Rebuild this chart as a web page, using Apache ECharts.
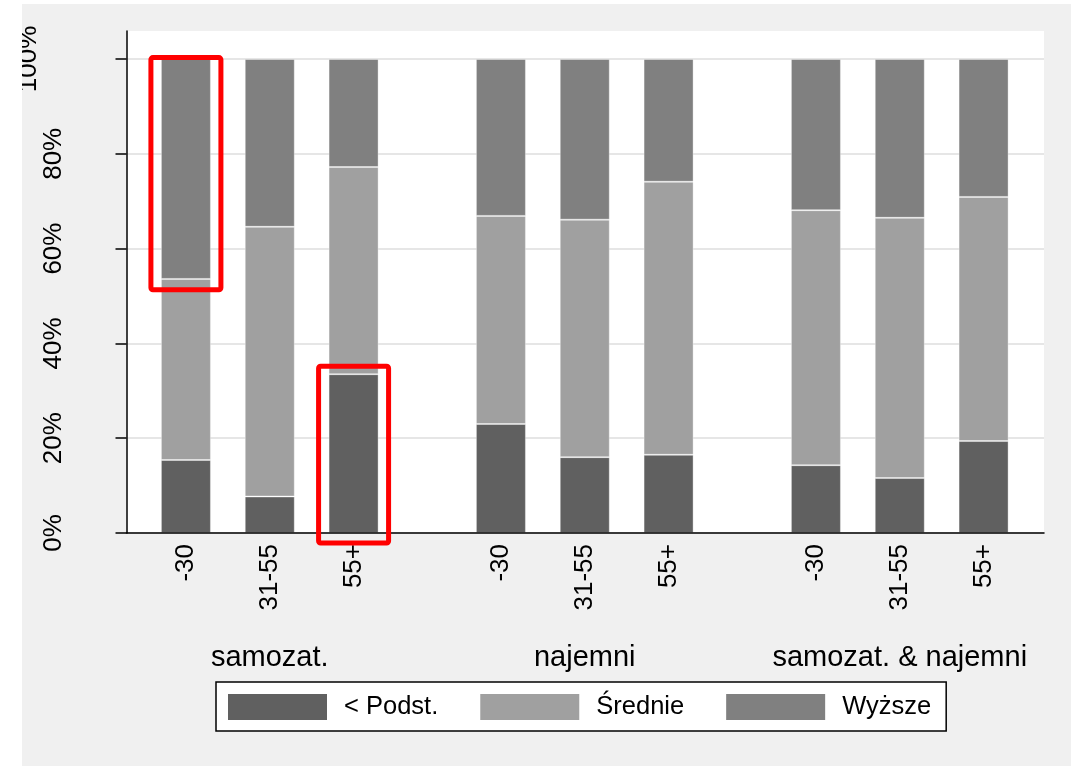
<!DOCTYPE html>
<html>
<head>
<meta charset="utf-8">
<script src="https://cdn.jsdelivr.net/npm/echarts@6/dist/echarts.min.js"></script>
<style>html,body{margin:0;padding:0;background:#fff}#c{width:1071px;height:766px}</style>
</head>
<body>
<div id="c"></div>
<script>
// ---- data ----
const ageCats = ['-30', '31-55', '55+'];
const groupNames = ['samozat.', 'najemni', 'samozat. & najemni'];
const seriesNames = ['< Podst.', 'Średnie', 'Wyższe'];
// shares (%) per group, per age category
const podst   = [[15.4, 7.7, 33.5], [23.0, 16.0, 16.5], [14.3, 11.6, 19.4]];
const srednie = [[38.2, 56.9, 43.7], [43.9, 50.1, 57.6], [53.8, 54.9, 51.5]];
const wyzsze  = [[46.4, 35.4, 22.8], [33.1, 33.9, 25.9], [31.9, 33.5, 29.1]];
const yTickLabels = ['0%', '20%', '40%', '60%', '80%', '100%'];
// highlighted (red boxed) segments: group index, category, lower %, upper %
const hlGroup = [0, 0];
const hlCat = ['-30', '55+'];
const hlLow = [51.3, -2.1];
const hlHigh = [100.3, 35.2];

// ---- layout / style ----
const FONT = '"Liberation Sans", Arial, sans-serif';
const colors = ['#606060', '#a0a0a0', '#808080'];
const groupLeft = [144, 459, 774];
const groupWidth = 251.5;
const plotTop = 59, plotBottom = 233, frameTop = 31, plotLeft = 126.5, plotRight = 27;
const values = [podst, srednie, wyzsze];

const grids = [
  {left: plotLeft, right: plotRight, top: frameTop, bottom: plotBottom, show: true, backgroundColor: '#fff', borderWidth: 0},
  {left: plotLeft, right: plotRight, top: plotTop, bottom: plotBottom}
];
const xAxes = [
  {gridIndex: 0, type: 'value', min: 0, max: 1, z: 5, axisLine: {show: true, lineStyle: {color: '#000', width: 1.5}}, axisTick: {show: false}, axisLabel: {show: false}, splitLine: {show: false}},
  {gridIndex: 1, type: 'value', show: false, min: 0, max: 1}
];
const yAxes = [
  {gridIndex: 0, type: 'value', min: 0, max: 1, z: 5, axisLine: {show: true, lineStyle: {color: '#000', width: 1.5}}, axisTick: {show: false}, axisLabel: {show: false}, splitLine: {show: false}},
  {gridIndex: 1, type: 'value', min: 0, max: 100, interval: 20,
   axisLine: {show: false},
   axisTick: {show: true, inside: false, length: 11, lineStyle: {color: '#000', width: 1.5}},
   splitLine: {show: true, lineStyle: {color: '#e6e6e6', width: 2}},
   axisLabel: {rotate: 90, margin: 60, fontSize: 26, color: '#000', fontFamily: FONT,
     formatter: function (v) { const l = yTickLabels[Math.round(v / 20)]; return v === 100 ? '{top|' + l + '}' : l; },
     rich: {top: {fontSize: 26, color: '#000', fontFamily: FONT, padding: [0, 0, 25, 0]}}}}
];
const series = [];
groupNames.forEach(function (gName, g) {
  grids.push({left: groupLeft[g], width: groupWidth, top: plotTop, bottom: plotBottom});
  xAxes.push({gridIndex: g + 2, type: 'category', data: ageCats,
    axisLine: {show: false}, axisTick: {show: false}, splitLine: {show: false},
    axisLabel: {rotate: 90, margin: 11, fontSize: 26, color: '#000', fontFamily: FONT, interval: 0},
    name: gName, nameLocation: 'middle', nameGap: 110,
    nameTextStyle: {fontSize: 29, color: '#000', fontFamily: FONT}});
  yAxes.push({gridIndex: g + 2, type: 'value', min: 0, max: 100, show: false});
  seriesNames.forEach(function (sName, s) {
    series.push({type: 'bar', name: sName, xAxisIndex: g + 2, yAxisIndex: g + 2, stack: 'g' + g,
      barWidth: 50, data: values[s][g],
      itemStyle: {color: colors[s], borderColor: 'rgba(255,255,255,0.35)', borderWidth: 1},
      emphasis: {disabled: true}});
  });
});

const chart = echarts.init(document.getElementById('c'), null, {renderer: 'canvas'});
chart.setOption({
  backgroundColor: '#fff',
  animation: false,
  textStyle: {fontFamily: FONT},
  grid: grids, xAxis: xAxes, yAxis: yAxes, series: series,
  legend: {data: seriesNames, left: 216, top: 682, orient: 'horizontal', icon: 'rect',
    itemWidth: 99, itemHeight: 26, itemGap: 42, padding: [12, 15, 11, 12],
    backgroundColor: '#fff', borderColor: '#000', borderWidth: 1.5,
    itemStyle: {borderWidth: 0},
    textStyle: {fontSize: 25.5, color: '#000', fontFamily: FONT, padding: [0, 0, 0, 12], lineHeight: 26}}
});

// grey page background, white margin, and red annotation boxes placed through the axes' own scales
const gfx = [
  {type: 'rect', z: -100, silent: true, shape: {x: 22, y: 4, width: 1049, height: 762}, style: {fill: '#f0f0f0'}},
  {type: 'rect', z: 100, silent: true, shape: {x: 0, y: 0, width: 22, height: 766}, style: {fill: '#fff'}}
];
hlCat.forEach(function (cat, i) {
  const idx = hlGroup[i] + 2;
  const pTop = chart.convertToPixel({xAxisIndex: idx, yAxisIndex: idx}, [cat, hlHigh[i]]);
  const pBot = chart.convertToPixel({xAxisIndex: idx, yAxisIndex: idx}, [cat, hlLow[i]]);
  const half = 35;
  gfx.push({type: 'rect', z: 100, silent: true,
    shape: {x: pTop[0] - half, y: pTop[1], width: half * 2, height: pBot[1] - pTop[1], r: 2},
    style: {fill: 'none', stroke: '#ff0000', lineWidth: 5}});
});
chart.setOption({graphic: gfx});
</script>
</body>
</html>
